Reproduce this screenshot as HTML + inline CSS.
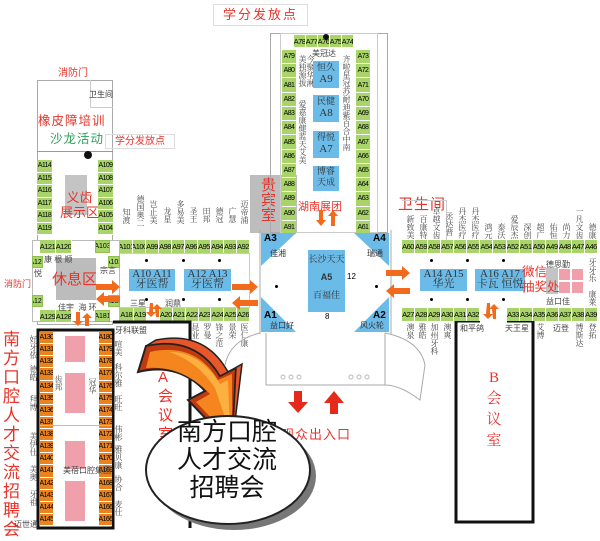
<!DOCTYPE html>
<html><head><meta charset="utf-8"><style>
*{margin:0;padding:0;box-sizing:border-box}
html,body{width:600px;height:541px;overflow:hidden}
body{background:#fff;position:relative;font-family:"Liberation Sans","Noto Sans CJK SC",sans-serif}
.a{position:absolute}
.g{position:absolute;background:#a9d46a;border:1px solid #8fbf50;font-size:7px;color:#000;display:flex;align-items:center;justify-content:center;overflow:hidden;white-space:nowrap}
.row{position:absolute;display:flex}
.row div{background:#a9d46a;border-right:1px solid #fff;font-size:7.5px;display:flex;align-items:center;justify-content:center;height:100%;flex:1;letter-spacing:-0.5px;overflow:hidden}
.col{position:absolute;display:flex;flex-direction:column}
.col div{background:#a9d46a;border-bottom:1px solid #fff;font-size:7px;display:flex;align-items:center;justify-content:center;flex:1;letter-spacing:-0.6px;overflow:hidden}
.col.o div{background:#e8831f}
.b{position:absolute;background:#6bbbe8;font-size:11px;color:#333;text-align:center;font-family:"Liberation Serif","Noto Serif CJK SC",serif}
.r{color:#e8332a}
.v{writing-mode:vertical-rl;font-size:8px;color:#444;font-family:"Noto Serif CJK SC",serif;line-height:9px;white-space:nowrap}
.line{position:absolute;border:1px solid #999}
.dot{position:absolute;width:3px;height:3px;background:#000;border-radius:50%}
.pk{position:absolute;background:#f0a0aa;border:1px solid #fff}
</style></head><body>

<div class="a" style="left:213px;top:4px;width:95px;height:22px;border:1px solid #ddd;font-size:13px;color:#e8332a;text-align:center;line-height:20px;letter-spacing:2px">学分发放点</div>

<div class="a r" style="left:58px;top:64px;font-size:10px">消防门</div>
<div class="line" style="left:37px;top:80px;width:76px;height:245px;border-color:#aaa"></div>
<div class="line" style="left:90px;top:80px;width:23px;height:28px;border-color:#ccc;border-top:none;border-right:none"></div>
<div class="a" style="left:89px;top:89px;font-size:8px;color:#333">卫生间</div>
<div class="a r" style="left:38px;top:110px;font-size:12.5px;letter-spacing:1px">橡皮障培训</div>
<div class="a" style="left:50px;top:128px;font-size:12.5px;color:#2ea05a;letter-spacing:1px">沙龙活动</div>
<div class="a" style="left:105px;top:134px;width:70px;height:15px;border:1px solid #ddd;font-size:10px;color:#e8332a;text-align:center;line-height:13px">学分发放点</div>
<div class="line" style="left:37px;top:151px;width:76px;height:0;border-width:1px 0 0 0"></div>
<div class="a" style="left:84px;top:151px;width:8px;height:8px;border-radius:50%;background:#111"></div>
<div class="col" style="left:37px;top:160px;width:15px;height:75px"><div>A114</div><div>A115</div><div>A116</div><div>A117</div><div>A118</div><div>A119</div></div>
<div class="col" style="left:98px;top:160px;width:15px;height:75px"><div>A109</div><div>A108</div><div>A107</div><div>A106</div><div>A105</div><div>A104</div></div>
<div class="a" style="left:65px;top:175px;width:22px;height:40px;background:#c4c4c4"></div>
<div class="a r" style="left:60px;top:190px;font-size:13px;line-height:15px;text-align:center">义齿<br>展示区</div>

<div class="a" style="left:32px;top:240px;width:88px;height:82px;border:1px solid #bbb;background:#fff"></div>
<div class="row" style="left:40px;top:240px;width:32px;height:13px"><div>A121</div><div>A120</div></div>
<div class="g" style="left:95px;top:240px;width:15px;height:13px">A103</div>
<div class="g" style="left:32px;top:256px;width:11px;height:12px">A122</div>
<div class="g" style="left:108px;top:256px;width:12px;height:12px">A102</div>
<div class="g" style="left:32px;top:295px;width:11px;height:12px">A127</div>
<div class="g" style="left:108px;top:295px;width:12px;height:12px">A182</div>
<div class="row" style="left:40px;top:310px;width:32px;height:12px"><div>A129</div><div>A128</div></div>
<div class="g" style="left:95px;top:310px;width:15px;height:12px">A181</div>
<div class="a" style="left:56px;top:258px;width:40px;height:42px;background:#bcbcbc"></div>
<div class="a r" style="left:52px;top:268px;font-size:15px">休息区</div>
<div class="a" style="left:44px;top:254px;font-size:8px;color:#444">康 根 顺</div>
<div class="a" style="left:34px;top:268px;font-size:8px;color:#444">悦</div>
<div class="a" style="left:100px;top:265px;font-size:8px;color:#444">宗言</div>
<div class="a" style="left:58px;top:302px;font-size:8px;color:#444">佳宇 &nbsp;海 环</div>
<div class="a r" style="left:4px;top:277px;font-size:9px">消防门</div>

<div class="row" style="left:120px;top:240px;width:130px;height:13px"><div>A101</div><div>A100</div><div>A99</div><div>A98</div><div>A97</div><div>A96</div><div>A95</div><div>A94</div><div>A93</div><div>A92</div></div>
<div class="line" style="left:120px;top:253px;width:130px;height:55px;border-color:#ccc;border-left:none"></div>
<div class="a v" style="left:122px;top:208px">知渡</div>
<div class="a v" style="left:136px;top:195px">德国奥二</div>
<div class="a v" style="left:149px;top:200px">岂止美</div>
<div class="a v" style="left:163px;top:207px">龙星</div>
<div class="a v" style="left:176px;top:200px">多易美</div>
<div class="a v" style="left:189px;top:207px">圣王</div>
<div class="a v" style="left:202px;top:207px">田邦</div>
<div class="a v" style="left:215px;top:207px">德冠</div>
<div class="a v" style="left:228px;top:207px">广慧</div>
<div class="a v" style="left:240px;top:200px">迈帝浦</div>
<div class="b" style="left:129px;top:269px;width:46px;height:22px;line-height:10px">A10 A11<br>牙医帮</div>
<div class="b" style="left:184px;top:269px;width:47px;height:22px;line-height:10px">A12 A13<br>牙医帮</div>
<div class="dot" style="left:145px;top:259px"></div><div class="dot" style="left:182px;top:259px"></div><div class="dot" style="left:218px;top:259px"></div>
<div class="dot" style="left:145px;top:298px"></div><div class="dot" style="left:182px;top:298px"></div><div class="dot" style="left:218px;top:298px"></div>
<div class="row" style="left:120px;top:308px;width:27px;height:13px"><div>A18</div><div>A19</div></div>
<div class="row" style="left:160px;top:308px;width:90px;height:13px"><div>A20</div><div>A21</div><div>A22</div><div>A23</div><div>A24</div><div>A25</div><div>A26</div></div>
<div class="a v" style="left:191px;top:323px">昆业</div>
<div class="a v" style="left:203px;top:323px">罗曼</div>
<div class="a v" style="left:215px;top:323px">锋之范</div>
<div class="a v" style="left:228px;top:323px">景荣</div>
<div class="a v" style="left:240px;top:323px">医仁康</div>
<div class="a" style="left:130px;top:298px;font-size:8px;color:#444">三星</div>
<div class="a" style="left:165px;top:298px;font-size:8px;color:#444">润鼎</div>

<div class="a" style="left:250px;top:175px;width:47px;height:58px;background:#bdbdbd"></div>
<div class="a r" style="left:258px;top:177px;font-size:15px;line-height:19px;writing-mode:vertical-rl">贵宾室</div>

<div class="line" style="left:270px;top:33px;width:118px;height:200px;border-color:#aaa"></div>
<div class="line" style="left:280px;top:33px;width:98px;height:200px;border-color:#ccc"></div>
<div class="row" style="left:294px;top:35px;width:60px;height:12px"><div>A78</div><div>A77</div><div>A76</div><div>A75</div><div>A74</div></div>
<div class="a" style="left:323px;top:34px;width:6px;height:6px;border-radius:50%;background:#111"></div>
<div class="col" style="left:282px;top:50px;width:14px;height:185px"><div>A79</div><div>A80</div><div>A81</div><div>A82</div><div>A83</div><div>A84</div><div>A85</div><div>A86</div><div>A87</div><div>A88</div><div>A89</div><div>A90</div><div>A91</div></div>
<div class="col" style="left:356px;top:50px;width:14px;height:185px"><div>A73</div><div>A72</div><div>A71</div><div>A70</div><div>A69</div><div>A68</div><div>A67</div><div>A66</div><div>A65</div><div>A64</div><div>A63</div><div>A62</div><div>A61</div></div>
<div class="a" style="left:312px;top:48px;font-size:8px;color:#444">美冠达</div>
<div class="a v" style="left:298px;top:55px">美独源拔</div>
<div class="a v" style="left:306px;top:55px">今聚华淋</div>
<div class="a v" style="left:342px;top:55px">齐啦星冠苏耐迪紫百合中南</div>
<div class="a v" style="left:298px;top:100px">爱嘉康健蓝天艾美</div>
<div class="b" style="left:313px;top:61px;width:26px;height:27px;font-size:9px;line-height:12px">恒久<br><span style="font-size:11px">A9</span></div>
<div class="b" style="left:313px;top:95px;width:26px;height:27px;font-size:9px;line-height:12px">民健<br><span style="font-size:11px">A8</span></div>
<div class="b" style="left:313px;top:131px;width:26px;height:27px;font-size:9px;line-height:12px">得悦<br><span style="font-size:11px">A7</span></div>
<div class="b" style="left:313px;top:166px;width:26px;height:25px;font-size:9px;line-height:11px">博睿<br>天成</div>
<div class="a r" style="left:298px;top:198px;font-size:11px">湖南展团</div>

<svg class="a" style="left:258px;top:230px" width="135" height="104">
<line x1="2" y1="0" x2="2" y2="104" stroke="#aaa"/><line x1="133" y1="0" x2="133" y2="104" stroke="#aaa"/>
<polygon points="3,3 38,3 3,36" fill="#6bbbe8"/>
<polygon points="96,3 131,3 131,36" fill="#6bbbe8"/>
<polygon points="3,102 38,102 3,67" fill="#6bbbe8"/>
<polygon points="131,102 96,102 131,67" fill="#6bbbe8"/>
</svg>
<div class="a" style="left:264px;top:233px;font-size:10px;font-weight:bold">A3</div>
<div class="a" style="left:270px;top:248px;font-size:8px;color:#333">佳湘</div>
<div class="a" style="left:373px;top:233px;font-size:10px;font-weight:bold">A4</div>
<div class="a" style="left:367px;top:248px;font-size:8px;color:#333">瑞通</div>
<div class="a" style="left:264px;top:310px;font-size:10px;font-weight:bold">A1</div>
<div class="a" style="left:270px;top:320px;font-size:8px;color:#333">益口好</div>
<div class="a" style="left:373px;top:310px;font-size:10px;font-weight:bold">A2</div>
<div class="a" style="left:360px;top:320px;font-size:8px;color:#333">风火轮</div>
<div class="b" style="left:308px;top:250px;width:37px;height:62px;font-size:9px;line-height:18px">长沙天天<br><b style="font-family:'Liberation Sans'">A5</b><br>百福佳</div>
<div class="a" style="left:347px;top:272px;font-size:8px">12</div>
<div class="a" style="left:325px;top:312px;font-size:8px">8</div>
<div class="dot" style="left:275px;top:285px"></div><div class="dot" style="left:375px;top:285px"></div>

<svg class="a" style="left:0;top:0" width="600" height="541">
<g fill="#f26b1d">
<polygon points="96,284 112,284 112,280 120,287 112,294 112,290 96,290"/>
<polygon points="120,296 104,296 104,292 96,299 104,306 104,302 120,302"/>
<polygon points="232,284 250,284 250,280 258,287 250,294 250,290 232,290"/>
<polygon points="258,300 240,300 240,296 232,303 240,310 240,306 258,306"/>
<polygon points="386,270 402,270 402,266 410,273 402,280 402,276 386,276"/>
<polygon points="410,288 394,288 394,284 386,291 394,298 394,294 410,294"/>
<polygon points="76,312 80,312 80,321 83,321 78,326 73,321 76,321"/>
<polygon points="85,326 89,326 89,318 92,318 87,313 82,318 85,318"/>
<polygon points="150,303 153,303 153,312 156,312 151,317 146,312 149,312"/>
<polygon points="156,317 159,317 159,309 162,309 157,304 152,309 155,309"/>
<polygon points="487,303 490,303 490,314 493,314 488,319 483,314 486,314"/>
<polygon points="493,319 496,319 496,309 499,309 494,304 489,309 492,309"/>
<polygon points="319,210 323,210 323,220 326,220 321,226 316,220 319,220"/>
<polygon points="331,226 335,226 335,216 338,216 333,210 328,216 331,216"/>
</g>
<g fill="#e52a1c">
<polygon points="294,391 302,391 302,402 308,402 298,413 288,402 294,402"/>
<polygon points="330,414 338,414 338,403 344,403 334,391 324,403 330,403"/>
</g>
<path d="M266,333 L266,385 L385,385 L385,333" fill="none" stroke="#aaa"/>
<path d="M385,333 Q420,340 425,365 L420,400 Q400,385 385,385" fill="none" stroke="#aaa"/>
<path d="M260,333 Q230,340 225,365" fill="none" stroke="#aaa"/>
<g fill="none" stroke="#bbb"><circle cx="283" cy="377" r="2"/><circle cx="291" cy="377" r="2"/><circle cx="299" cy="377" r="2"/><circle cx="351" cy="377" r="2"/><circle cx="359" cy="377" r="2"/><circle cx="367" cy="377" r="2"/></g>
<g fill="none" stroke="#111" stroke-width="3">
<rect x="38" y="330" width="75" height="198"/>
<path d="M113,322 L190,322 L190,528"/>
<path d="M456,321 L456,522 L533,522 L533,321 L507,321"/>
<path d="M456,321 L480,321"/>
</g>
</svg>

<div class="a r" style="left:398px;top:193px;font-size:15px;letter-spacing:1px">卫生间</div>
<div class="line" style="left:402px;top:200px;width:45px;height:40px;border-color:#ccc;border-bottom:none;border-left:none"></div>
<div class="row" style="left:402px;top:240px;width:196px;height:13px"><div>A60</div><div>A59</div><div>A58</div><div>A57</div><div>A56</div><div>A55</div><div>A54</div><div>A53</div><div>A52</div><div>A51</div><div>A50</div><div>A49</div><div>A48</div><div>A47</div><div>A46</div></div>
<div class="a v" style="left:406px;top:215px">新致美</div>
<div class="a v" style="left:419px;top:215px">百康特</div>
<div class="a v" style="left:432px;top:207px">卓越文齿</div>
<div class="a v" style="left:445px;top:212px">丞达普</div>
<div class="a v" style="left:458px;top:207px">丹杰医疗</div>
<div class="a v" style="left:471px;top:207px">丹杰医疗</div>
<div class="a v" style="left:484px;top:223px">鸿元</div>
<div class="a v" style="left:497px;top:223px">泰沃</div>
<div class="a v" style="left:510px;top:215px">爱辰杰</div>
<div class="a v" style="left:523px;top:223px">深创</div>
<div class="a v" style="left:536px;top:223px">超广</div>
<div class="a v" style="left:549px;top:223px">佑恒</div>
<div class="a v" style="left:562px;top:223px">尚力</div>
<div class="a v" style="left:575px;top:207px">一凡文齿</div>
<div class="a v" style="left:588px;top:223px">德康</div>
<div class="b" style="left:420px;top:269px;width:47px;height:22px;line-height:10px">A14 A15<br>华光</div>
<div class="b" style="left:475px;top:269px;width:50px;height:22px;line-height:10px">A16 A17<br>卡瓦 恒悦</div>
<div class="a" style="left:546px;top:268px;width:12px;height:26px;background:#c4c4c4"></div>
<div class="pk" style="left:558px;top:268px;width:13px;height:13px"></div><div class="pk" style="left:571px;top:268px;width:13px;height:13px"></div>
<div class="pk" style="left:558px;top:281px;width:13px;height:13px"></div><div class="pk" style="left:571px;top:281px;width:13px;height:13px"></div>
<div class="a r" style="left:522px;top:265px;font-size:12.5px;line-height:15px">微信<br>抽奖处</div>
<div class="a" style="left:546px;top:259px;font-size:8px;color:#444">德思勤</div>
<div class="a" style="left:546px;top:296px;font-size:8px;color:#444">益口佳</div>
<div class="a v" style="left:588px;top:258px">牙牙乐</div>
<div class="a v" style="left:588px;top:290px">康莱</div>
<div class="dot" style="left:430px;top:259px"></div><div class="dot" style="left:466px;top:259px"></div><div class="dot" style="left:502px;top:259px"></div>
<div class="dot" style="left:430px;top:298px"></div><div class="dot" style="left:466px;top:298px"></div><div class="dot" style="left:502px;top:298px"></div>
<div class="row" style="left:402px;top:308px;width:78px;height:13px"><div>A27</div><div>A28</div><div>A29</div><div>A30</div><div>A31</div><div>A32</div></div>
<div class="row" style="left:507px;top:308px;width:26px;height:13px"><div>A33</div><div>A34</div></div>
<div class="row" style="left:533px;top:308px;width:65px;height:13px"><div>A35</div><div>A36</div><div>A37</div><div>A38</div><div>A39</div></div>
<div class="a v" style="left:406px;top:323px">澳泉</div>
<div class="a v" style="left:418px;top:323px">雅皓</div>
<div class="a v" style="left:430px;top:323px">加州牙科</div>
<div class="a v" style="left:443px;top:323px">澳爽</div>
<div class="a" style="left:460px;top:323px;font-size:8px;color:#444">和平鸽</div>
<div class="a" style="left:505px;top:323px;font-size:8px;color:#444">天王星</div>
<div class="a v" style="left:536px;top:323px">艾博</div>
<div class="a" style="left:553px;top:323px;font-size:8px;color:#444">迈登</div>
<div class="a v" style="left:575px;top:323px">博斯达</div>
<div class="a v" style="left:588px;top:323px">登拓</div>
<div class="a r" style="left:484px;top:368px;font-size:15px;line-height:21px;text-align:center;width:20px;font-family:'Liberation Serif','Noto Serif CJK SC',serif">B<br>会<br>议<br>室</div>

<div class="a r" style="left:281px;top:424px;font-size:13px;letter-spacing:1px">观众出入口</div>

<div class="a r" style="left:3px;top:330px;font-size:17px;line-height:19px;width:20px">南方口腔人才交流招聘会</div>
<div class="col o" style="left:40px;top:332px;width:13px;height:194px"><div>A130</div><div>A131</div><div>A132</div><div>A133</div><div>A134</div><div>A135</div><div>A136</div><div>A137</div><div>A138</div><div>A139</div><div>A140</div><div>A141</div><div>A142</div><div>A143</div><div>A144</div><div>A145</div></div>
<div class="col o" style="left:99px;top:332px;width:13px;height:194px"><div>A180</div><div>A179</div><div>A178</div><div>A177</div><div>A176</div><div>A175</div><div>A174</div><div>A173</div><div>A172</div><div>A171</div><div>A170</div><div>A169</div><div>A168</div><div>A167</div><div>A166</div><div>A166</div></div>
<div class="pk" style="left:64px;top:335px;width:22px;height:28px"></div>
<div class="pk" style="left:64px;top:372px;width:22px;height:42px"></div>
<div class="pk" style="left:64px;top:440px;width:22px;height:30px"></div>
<div class="pk" style="left:64px;top:480px;width:22px;height:42px"></div>
<div class="line" style="left:40px;top:425px;width:72px;height:0;border-color:#bbb;border-width:1px 0 0 0"></div>
<div class="a v" style="left:29px;top:335px">好牙依</div>
<div class="a v" style="left:29px;top:365px">德皓</div>
<div class="a v" style="left:29px;top:395px">拜博</div>
<div class="a v" style="left:29px;top:432px">美伊仕</div>
<div class="a v" style="left:29px;top:465px">美奥</div>
<div class="a v" style="left:29px;top:490px">牙祖</div>
<div class="a v" style="left:54px;top:375px">齿邦</div>
<div class="a v" style="left:88px;top:378px">冠华</div>
<div class="a" style="left:14px;top:519px;font-size:8px;color:#444">迈世通</div>
<div class="a" style="left:63px;top:465px;font-size:8px;color:#444">美蓓口腔集团</div>

<div class="a" style="left:115px;top:325px;font-size:8px;color:#444">牙科联盟</div>
<div class="a v" style="left:114px;top:340px">喧美</div>
<div class="a v" style="left:114px;top:363px">科尔雅</div>
<div class="a v" style="left:114px;top:395px">旺旺</div>
<div class="a v" style="left:114px;top:425px">伟彬</div>
<div class="a v" style="left:114px;top:445px">雅贝康</div>
<div class="a v" style="left:114px;top:475px">协合</div>
<div class="a v" style="left:114px;top:500px">麦仕</div>
<div class="a r" style="left:158px;top:368px;font-size:15px;line-height:19px;width:18px">A会议室</div>

<!-- big orange arrow -->
<svg class="a" style="left:0;top:0" width="600" height="541">
<path d="M138,372 L146,346 Q195,335 220,376 L236,368 L232,446 L188,400 L205,391 Q178,362 138,372 Z" fill="#c03a10" stroke="#222" stroke-width="2"/>
<path d="M146,346 L156,340 Q205,330 228,372 L242,364 L232,446 L236,368 L220,376 Q195,335 146,346 Z" fill="#e8562a" stroke="#222" stroke-width="1.5"/>
<path d="M150,352 Q195,342 218,380 L232,374 L232,440 L196,402 L210,394 Q182,365 146,368 Z" fill="#f5861f"/>
<path d="M170,352 Q200,352 220,384 L228,380 L230,432 L215,388 Q198,362 170,352 Z" fill="#fbb040"/>
</svg>

<svg class="a" style="left:140px;top:410px" width="180" height="130">
<ellipse cx="94" cy="66" rx="82" ry="54" fill="#777"/>
<ellipse cx="88" cy="60" rx="82" ry="54" fill="#fff" stroke="#222" stroke-width="2"/>
</svg>
<div class="a" style="left:172px;top:418px;width:110px;font-size:25px;line-height:28px;text-align:center;color:#111">南方口腔<br>人才交流<br>招聘会</div>

</body></html>
